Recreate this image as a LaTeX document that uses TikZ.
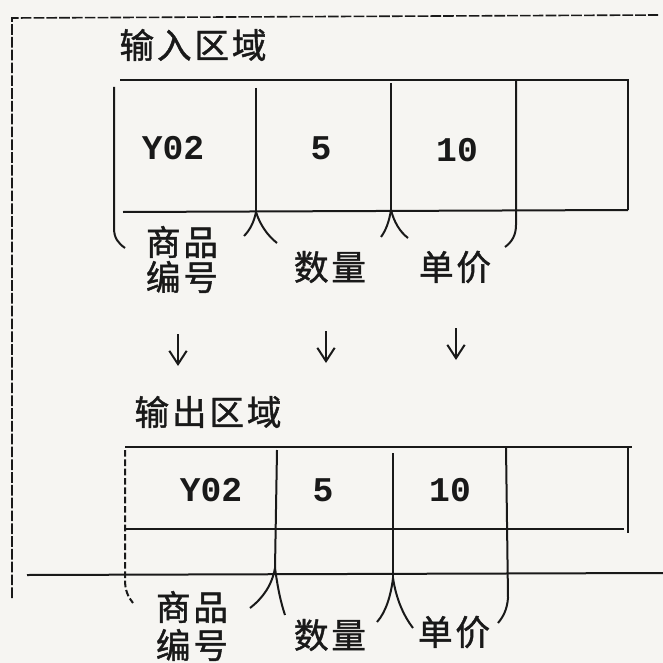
\documentclass[tikz,border=0pt]{standalone}
\usepackage{fontspec}
\newfontfamily\cjk{Noto Sans CJK SC}[FakeBold=1.2, LetterSpace=8]
\newfontfamily\tw{Liberation Mono}
\usetikzlibrary{arrows.meta}
\definecolor{paper}{RGB}{246,245,242}
\definecolor{ink}{RGB}{25,25,25}
\tikzset{
  frame/.style={ink, line width=1.2pt, dash pattern=on 8pt off 1.6pt},
  rule/.style={ink, line width=1.5pt},
  lbl/.style={ink, font=\cjk\fontsize{26}{30}\selectfont, inner sep=0pt},
  val/.style={ink, font=\tw\bfseries\fontsize{26}{30}\selectfont, inner sep=0pt},
  arr/.style={ink, line width=1.3pt, -{Straight Barb[length=10pt,width=13pt,line width=1.5pt]}}
}
\begin{document}
\begin{tikzpicture}[x=0.75pt,y=-0.75pt]
\fill[paper] (0,0) rectangle (663,663);
\useasboundingbox (0,0) rectangle (663,663);

% outer frame
\draw[frame] (12,598) -- (12,18) -- (658,15);
\draw[rule] (27,575) -- (663,573);

% ---------- input area ----------
\node[lbl] (inTitle) at (193,45) {输入区域};
\draw[rule] (120,80) -- (628,80) -- (628,210);
\draw[rule] (123,212) -- (628,210);
% left bracket
\draw[rule] (114,87) -- (114,228) .. controls (114,238) and (118,243) .. (125,248);
% divider 1
\draw[rule] (256,88) -- (256,212);
\draw[rule] (256,212) .. controls (254,222) and (250,230) .. (244,236);
\draw[rule] (256,212) .. controls (260,225) and (268,236) .. (277,243);
% divider 2
\draw[rule] (391,83) -- (391,210);
\draw[rule] (391,210) .. controls (389,222) and (386,230) .. (381,237);
\draw[rule] (391,210) .. controls (394,222) and (400,232) .. (408,238);
% divider 3
\draw[rule] (516,80) -- (516,225) .. controls (516,235) and (512,242) .. (505,247);

\node[val] (inCode) at (173,148) {Y02};
\node[val] (inQty) at (321,148) {5};
\node[val] (inPrice) at (457,150) {10};

\node[lbl] (inL1a) at (182,242) {商品};
\node[lbl] (inL1b) at (182,277) {编号};
\node[lbl] (inL2) at (330,267) {数量};
\node[lbl] (inL3) at (455,267) {单价};

% arrows
\coordinate (a1s) at (178,334);
\coordinate (a1e) at (178,366);
\coordinate (a2s) at (326,331);
\coordinate (a2e) at (326,363);
\coordinate (a3s) at (456,328);
\coordinate (a3e) at (456,360);
\draw[arr] (a1s) -- (a1e);
\draw[arr] (a2s) -- (a2e);
\draw[arr] (a3s) -- (a3e);

% ---------- output area ----------
\node[lbl] (outTitle) at (208,412) {输出区域};
\draw[rule] (125,447) -- (632,447);
\draw[rule] (628,447) -- (628,533);
\draw[rule] (125,529) -- (624,529);
% left bracket (dashed)
\draw[rule, dash pattern=on 5pt off 2pt] (125,450) -- (125,580) .. controls (125,590) and (128,597) .. (133,603);
% divider 1
\draw[rule] (277,450) -- (275,568);
\draw[rule] (275,568) .. controls (272,585) and (263,598) .. (250,608);
\draw[rule] (275,568) .. controls (278,590) and (281,603) .. (285,615);
% divider 2
\draw[rule] (393,453) -- (393,578);
\draw[rule] (393,578) .. controls (391,595) and (386,612) .. (377,622);
\draw[rule] (393,578) .. controls (396,598) and (403,615) .. (413,628);
% divider 3
\draw[rule] (506,447) -- (508,598) .. controls (507,610) and (503,617) .. (498,623);

\node[val] (outCode) at (211,490) {Y02};
\node[val] (outQty) at (323,490) {5};
\node[val] (outPrice) at (450,490) {10};

\node[lbl] (outL1a) at (192,607) {商品};
\node[lbl] (outL1b) at (192,645) {编号};
\node[lbl] (outL2) at (330,635) {数量};
\node[lbl] (outL3) at (454,632) {单价};
\end{tikzpicture}
\end{document}
